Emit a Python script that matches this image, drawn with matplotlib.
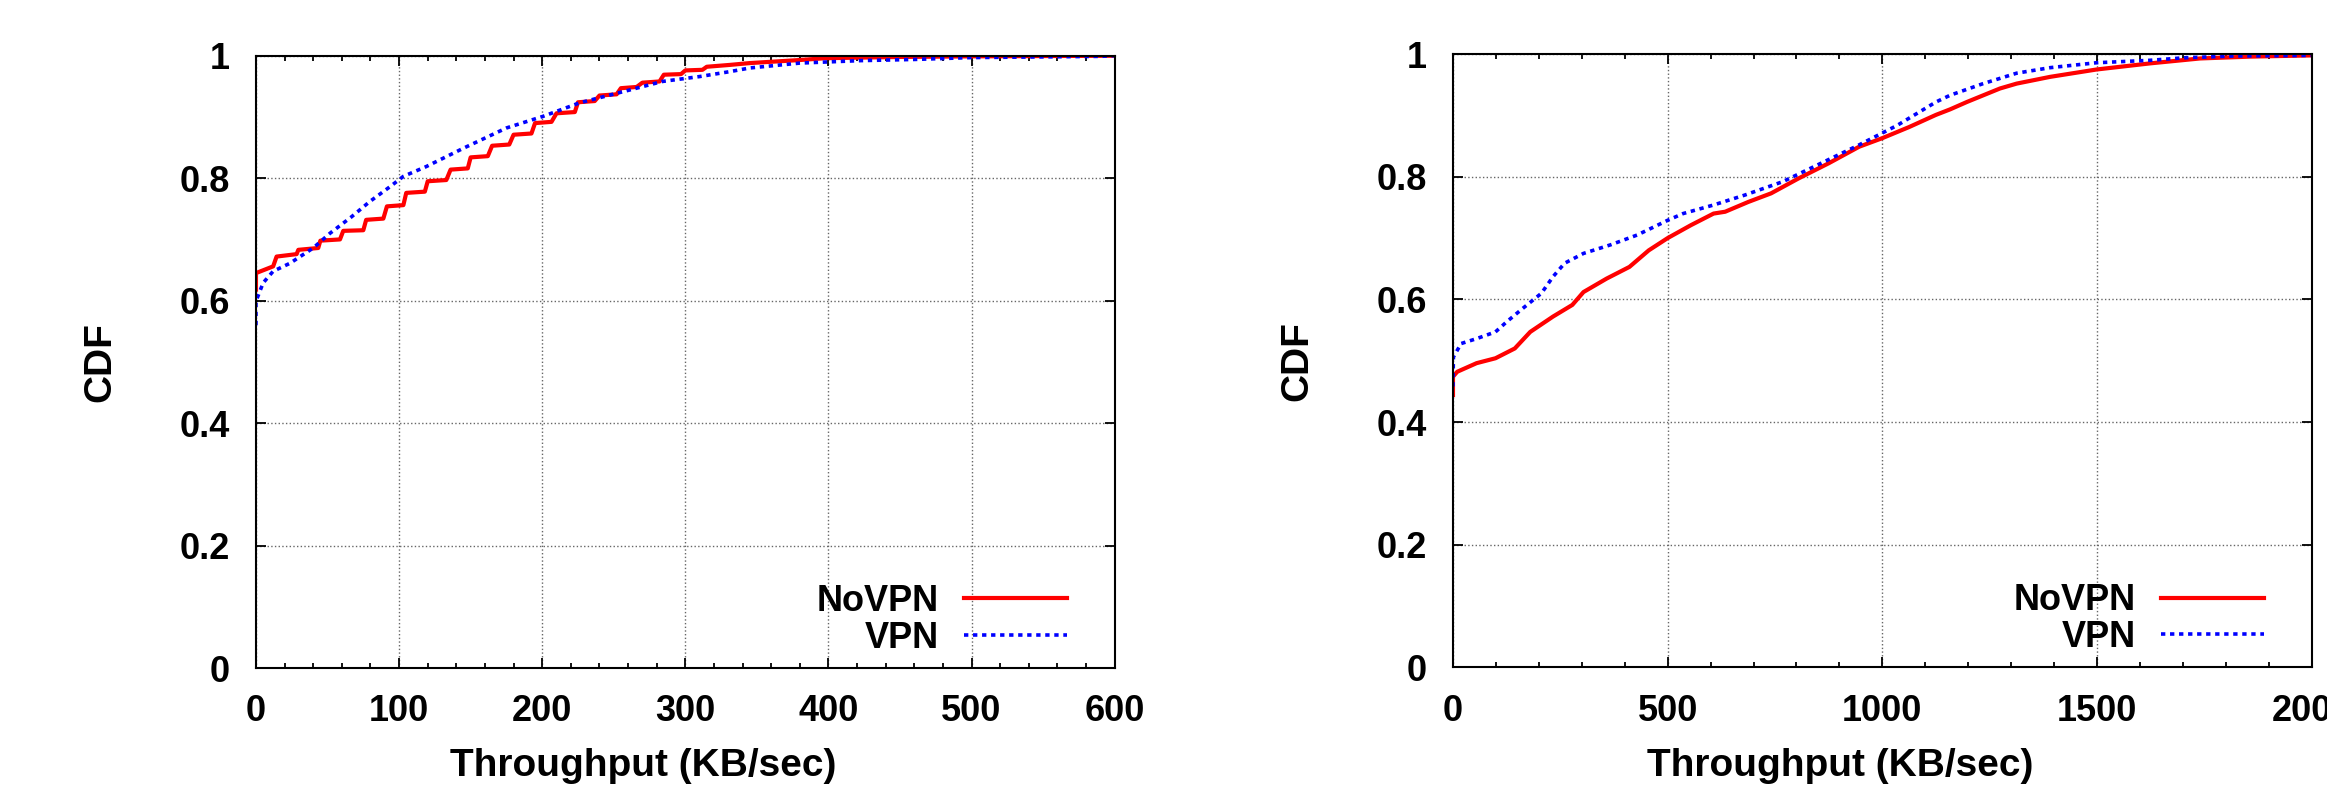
import matplotlib
matplotlib.use('Agg')
import matplotlib.pyplot as plt
from matplotlib.ticker import MultipleLocator

# left panel (throughput, 0-600 KB/sec)
left_novpn_x = [0, 0, 12, 14.4, 28.4, 29.6, 43.5, 45, 58.7, 61, 75, 77, 89, 91.5, 103, 105,
                118, 120, 133, 136, 148, 150, 162, 165, 177, 180, 192.5, 195, 206.5, 210,
                222.8, 225, 236.7, 240, 252, 255, 266, 270, 282, 285, 297, 300, 312, 315,
                331, 345, 380, 398, 450, 500, 600]
left_novpn_y = [0.618, 0.645, 0.656, 0.672, 0.676, 0.683, 0.686, 0.698, 0.700, 0.714, 0.715,
                0.732, 0.734, 0.754, 0.756, 0.776, 0.778, 0.795, 0.797, 0.814, 0.816, 0.834,
                0.836, 0.853, 0.855, 0.871, 0.873, 0.890, 0.892, 0.906, 0.908, 0.924, 0.926,
                0.935, 0.937, 0.947, 0.949, 0.956, 0.958, 0.969, 0.970, 0.976, 0.977, 0.982,
                0.985, 0.988, 0.993, 0.996, 0.998, 0.999, 1.0]
left_vpn_x = [0, 0, 5, 12, 23.7, 40, 51.7, 66.8, 79.6, 93.6, 103, 119, 145, 175, 200.6, 226,
              261, 284, 310, 331, 345, 380, 422, 461, 500, 590, 600]
left_vpn_y = [0.56, 0.599, 0.629, 0.648, 0.661, 0.686, 0.710, 0.737, 0.762, 0.786, 0.803,
              0.819, 0.849, 0.882, 0.901, 0.923, 0.944, 0.958, 0.966, 0.974, 0.980, 0.988,
              0.992, 0.994, 0.997, 0.999, 1.0]

# right panel (throughput, 0-2000 KB/sec)
right_novpn_x = [0, 0, 10, 55, 99, 144, 180, 233, 278, 304, 358, 411, 456, 500, 554, 607,
                 634, 688, 741, 804, 875, 946, 1000, 1062, 1125, 1158, 1197, 1274, 1313,
                 1391, 1499, 1624, 1740, 1857, 2000]
right_novpn_y = [0.444, 0.474, 0.482, 0.496, 0.504, 0.520, 0.547, 0.572, 0.591, 0.612, 0.634,
                 0.653, 0.680, 0.700, 0.721, 0.740, 0.743, 0.759, 0.773, 0.797, 0.822, 0.849,
                 0.863, 0.881, 0.901, 0.910, 0.922, 0.944, 0.952, 0.963, 0.975, 0.985, 0.993,
                 0.996, 0.998]
right_vpn_x = [0, 1, 19, 55, 99, 126, 162, 206, 233, 260, 304, 367, 429, 500, 536, 607, 679,
               768, 857, 946, 1035, 1125, 1158, 1235, 1313, 1391, 1499, 1624, 1701, 1818, 2000]
right_vpn_y = [0.458, 0.506, 0.528, 0.536, 0.547, 0.564, 0.585, 0.610, 0.637, 0.659, 0.675,
               0.689, 0.705, 0.729, 0.740, 0.754, 0.770, 0.792, 0.822, 0.852, 0.884, 0.922,
               0.933, 0.952, 0.969, 0.978, 0.986, 0.990, 0.994, 0.997, 0.998]

y_ticks = [0, 0.2, 0.4, 0.6, 0.8, 1.0]
y_labels = ['0', '0.2', '0.4', '0.6', '0.8', '1']

plt.rcParams['font.family'] = ['Liberation Sans', 'DejaVu Sans']
plt.rcParams['font.weight'] = 'bold'
plt.rcParams['axes.labelweight'] = 'bold'
plt.rcParams['font.size'] = 26

fig = plt.figure(figsize=(23.27, 7.85), dpi=100)
ax1 = fig.add_axes([0.110, 0.149, 0.369, 0.780])
ax2 = fig.add_axes([0.6244, 0.150, 0.369, 0.781])

panels = [
    (ax1, left_novpn_x, left_novpn_y, left_vpn_x, left_vpn_y, 600, 100, 20),
    (ax2, right_novpn_x, right_novpn_y, right_vpn_x, right_vpn_y, 2000, 500, 100),
]

for ax, nx, ny, vx, vy, xmax, major, minor in panels:
    ax.plot(nx, ny, color='#ff0000', lw=3, label='NoVPN')
    ax.plot(vx, vy, color='#0000ff', lw=2.6, linestyle=(0, (1.2, 1.3)),
            dash_capstyle='butt', label='VPN')
    ax.set_xlim(0, xmax)
    ax.set_ylim(0, 1)
    ax.xaxis.set_major_locator(MultipleLocator(major))
    ax.xaxis.set_minor_locator(MultipleLocator(minor))
    ax.set_yticks(y_ticks)
    ax.set_yticklabels(y_labels)
    ax.grid(True, which='major', linestyle=':', color='#666666', lw=1.0)
    ax.tick_params(which='both', direction='in', top=True, right=True, width=1.3)
    ax.tick_params(which='major', length=7.2, pad=19)
    ax.tick_params(which='minor', length=3.6)
    for s in ax.spines.values():
        s.set_linewidth(1.5)

    # labels sit a bit left of centre in the original
    ax.set_xlabel('Throughput (KB/sec)', fontsize=28)
    ax.xaxis.label.set_va('baseline')
    ax.xaxis.set_label_coords(0.451, -0.177)
    ax.set_ylabel('CDF', fontsize=28)
    ax.yaxis.label.set_va('baseline')
    ax.yaxis.set_label_coords(-0.170, 0.5)

    ax.legend(loc='lower right', bbox_to_anchor=(0.945, 0.02), frameon=False,
              markerfirst=False, handlelength=2.85, handletextpad=0.7,
              labelspacing=0.05, borderpad=0, borderaxespad=0)

fig.savefig('out.png', dpi=100)
